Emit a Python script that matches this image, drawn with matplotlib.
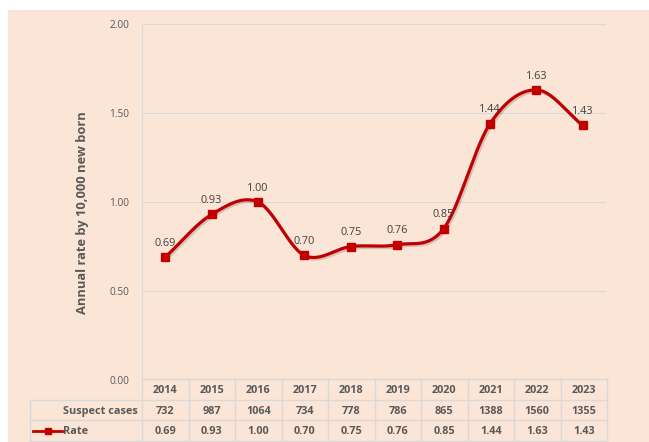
import matplotlib.pyplot as plt
import matplotlib.patheffects as pe
import numpy as np

plt.rcParams['font.family'] = ['Open Sans', 'DejaVu Sans']

# data
years = ['2014', '2015', '2016', '2017', '2018', '2019', '2020', '2021', '2022', '2023']
suspect_cases = [732, 987, 1064, 734, 778, 786, 865, 1388, 1560, 1355]
rate = [0.69, 0.93, 1.00, 0.70, 0.75, 0.76, 0.85, 1.44, 1.63, 1.43]
yticks = [0.0, 0.5, 1.0, 1.5, 2.0]

W, H = 649, 442
bg = '#FBE5D6'
red = '#C00000'
grid = '#D9D9D9'
txt = '#595959'


def fx(px):
    return px / W


def fy(py):
    return 1 - py / H


def smooth(x, y, n=30):
    # Catmull-Rom curve through the points, similar to Excel's smoothed line
    x = np.asarray(x, float)
    y = np.asarray(y, float)
    px = np.concatenate([[2 * x[0] - x[1]], x, [2 * x[-1] - x[-2]]])
    py = np.concatenate([[2 * y[0] - y[1]], y, [2 * y[-1] - y[-2]]])
    t = np.linspace(0, 1, n)

    def seg(p0, p1, p2, p3):
        return 0.5 * ((2 * p1) + (-p0 + p2) * t + (2 * p0 - 5 * p1 + 4 * p2 - p3) * t ** 2 +
                      (-p0 + 3 * p1 - 3 * p2 + p3) * t ** 3)

    xs, ys = [], []
    for i in range(1, len(px) - 2):
        xs.append(seg(px[i - 1], px[i], px[i + 1], px[i + 2]))
        ys.append(seg(py[i - 1], py[i], py[i + 1], py[i + 2]))
    return np.concatenate(xs), np.concatenate(ys)


fig = plt.figure(figsize=(W / 100, H / 100), dpi=100)
fig.patch.set_facecolor('white')
fig.patches.append(plt.Rectangle((fx(8), 0), 1 - fx(8), fy(10), transform=fig.transFigure,
                                 facecolor=bg, edgecolor='none', zorder=-10))

# main chart
ax = fig.add_axes([fx(142), fy(380), fx(606) - fx(142), fy(24) - fy(380)])
ax.set_facecolor('none')
x = np.arange(len(years))
ax.set_xlim(-0.5, len(years) - 0.5)
ax.set_ylim(0, 2)
ax.set_yticks(yticks)
ax.set_yticklabels([f'{v:.2f}' for v in yticks], color=txt, fontsize=7.3)
ax.tick_params(axis='y', length=0, pad=9)
ax.set_xticks([])
for s in ['top', 'right', 'bottom']:
    ax.spines[s].set_visible(False)
ax.spines['left'].set_color(grid)
for v in yticks[1:]:
    ax.axhline(v, color=grid, lw=0.8, zorder=0)

sx, sy = smooth(x, rate)
shadow = [pe.SimpleLineShadow(offset=(1.2, -1.2), alpha=0.15), pe.Normal()]
ax.plot(sx, sy, color=red, lw=2.3, zorder=3, path_effects=shadow, solid_capstyle='round')
ax.plot(x, rate, ls='none', marker='s', ms=6, color=red, zorder=4)
for xi, v in zip(x, rate):
    ax.annotate(f'{v:.2f}', (xi, v), xytext=(0, 6), textcoords='offset points',
                ha='center', va='bottom', fontsize=7.8, color='#404040', zorder=5)

ax.set_ylabel('Annual rate by 10,000 new born', fontsize=9.3, fontweight='bold', color=txt)
ax.yaxis.set_label_coords(fx(68) - fx(142), (fy(213) - fy(380)) / (fy(24) - fy(380)))

# data table below
lab_w = (142 - 30) / 46.4
tx = fig.add_axes([fx(30), fy(441), fx(607) - fx(30), fy(379) - fy(441)])
tx.set_xlim(-0.5 - lab_w, len(years) - 0.5)
tx.set_ylim(3, 0)
tx.axis('off')
lc = '#D9D9D9'
# horizontal lines
tx.plot([-0.5, len(years) - 0.5], [0, 0], color=lc, lw=1, clip_on=False)
for r in [1, 2, 3]:
    tx.plot([-0.5 - lab_w, len(years) - 0.5], [r, r], color=lc, lw=1, clip_on=False)
# vertical lines
for c in range(len(years) + 1):
    tx.plot([c - 0.5, c - 0.5], [0, 3], color=lc, lw=1, clip_on=False)
tx.plot([-0.5 - lab_w] * 2, [1, 3], color=lc, lw=1, clip_on=False)

fs = 7.8
for i in range(len(years)):
    tx.text(i, 0.55, years[i], ha='center', va='center', fontsize=fs, fontweight='bold', color=txt)
    tx.text(i, 1.55, str(suspect_cases[i]), ha='center', va='center', fontsize=fs, fontweight='bold', color=txt)
    tx.text(i, 2.55, f'{rate[i]:.2f}', ha='center', va='center', fontsize=fs, fontweight='bold', color=txt)
tx.text(-0.5 - 0.1, 1.55, 'Suspect cases', ha='right', va='center', fontsize=fs, fontweight='bold', color=txt)
tx.text(-0.5 - lab_w + 0.72, 2.55, 'Rate', ha='left', va='center', fontsize=fs, fontweight='bold', color=txt)
tx.plot([-0.5 - lab_w + 0.07, -0.5 - lab_w + 0.68], [2.5, 2.5], color=red, lw=2, clip_on=False)
tx.plot([-0.5 - lab_w + 0.38], [2.5], marker='s', ms=5, color=red, clip_on=False)

fig.savefig('out.png', dpi=100)
